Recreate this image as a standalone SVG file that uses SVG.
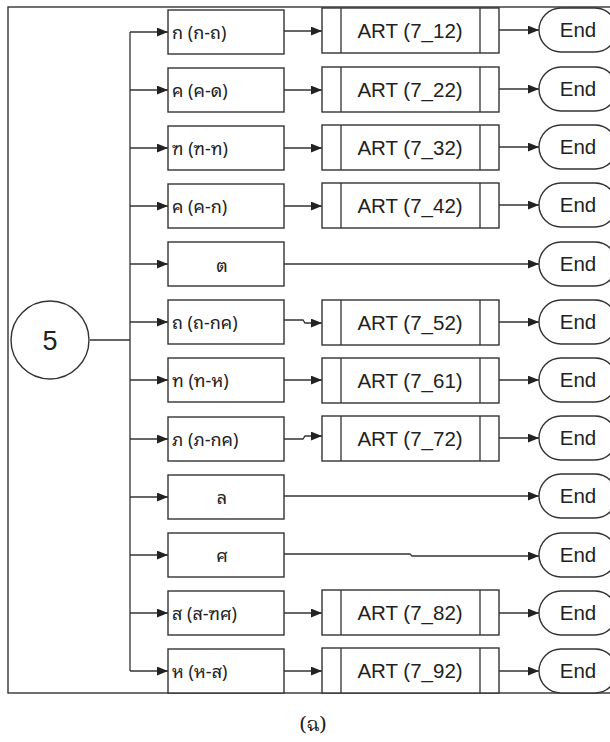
<svg xmlns="http://www.w3.org/2000/svg" width="610" height="742" viewBox="0 0 610 742">
<defs>
<marker id="ah" viewBox="0 0 10 8" refX="10" refY="4" markerWidth="11" markerHeight="9" markerUnits="userSpaceOnUse" orient="auto">
<path d="M0,0 L10,4 L0,8 Z" fill="#222"/>
</marker>
<style>
.b{fill:#fff;stroke:#333;stroke-width:1.4}
.c{fill:none;stroke:#333;stroke-width:1.3}
.a{fill:none;stroke:#333;stroke-width:1.3;marker-end:url(#ah)}
.th{font-family:"Noto Sans Thai Looped","Noto Serif Thai","Noto Sans Thai","Noto Sans",sans-serif;font-size:18px;fill:#222}
.en{font-family:"Liberation Sans",Arial,sans-serif;font-size:20.5px;fill:#222}
.cap{font-family:"Noto Serif Thai","Liberation Serif",serif;font-size:20px;fill:#222}
</style>
</defs>
<rect x="8" y="7" width="606" height="686" fill="none" stroke="#333" stroke-width="1.4"/>
<g id="connectors">
<path class="c" d="M90,340 H130 M130,32 V671"/>
<path class="a" d="M130,32 H168"/><path class="a" d="M130,90 H168"/><path class="a" d="M130,148 H168"/><path class="a" d="M130,206 H168"/><path class="a" d="M130,264 H168"/><path class="a" d="M130,322 H168"/><path class="a" d="M130,380 H168"/><path class="a" d="M130,439 H168"/><path class="a" d="M130,497 H168"/><path class="a" d="M130,555 H168"/><path class="a" d="M130,613 H168"/><path class="a" d="M130,671 H168"/>
<path class="a" d="M284,31 H322"/><path class="a" d="M284,90 H322"/><path class="a" d="M284,148 H322"/><path class="a" d="M284,206 H322"/>
<path class="a" d="M284,320 H303 L305,323 H322"/>
<path class="a" d="M284,380 H322"/>
<path class="a" d="M284,439 H303 L305,436 H322"/>
<path class="a" d="M284,613 H322"/><path class="a" d="M284,671 H322"/>
<path class="a" d="M499,30 H539"/><path class="a" d="M499,89 H539"/><path class="a" d="M499,147 H539"/><path class="a" d="M499,205 H539"/>
<path class="a" d="M499,322 H539"/><path class="a" d="M499,380 H539"/><path class="a" d="M499,438 H539"/>
<path class="a" d="M499,613 H539"/><path class="a" d="M499,671 H539"/>
<path class="a" d="M284,264 H539"/>
<path class="a" d="M284,496 H539"/>
<path class="a" d="M284,554 H410 L412,556 H539"/>
</g>
<g id="start"><circle class="b" cx="50" cy="340" r="39"/><text x="50" y="350" text-anchor="middle" font-family="Liberation Sans,Arial,sans-serif" font-size="27" fill="#222">5</text></g>
<g id="n1"><rect class="b" x="168" y="10" width="116" height="44"/><text class="th" x="172" y="39">ก (ก-ถ)</text></g>
<g id="n2"><rect class="b" x="168" y="68" width="116" height="44"/><text class="th" x="172" y="97">ค (ค-ด)</text></g>
<g id="n3"><rect class="b" x="168" y="126" width="116" height="44"/><text class="th" x="172" y="155">ฑ (ฑ-ท)</text></g>
<g id="n4"><rect class="b" x="168" y="184" width="116" height="44"/><text class="th" x="172" y="213">ค (ค-ก)</text></g>
<g id="n5"><rect class="b" x="168" y="242" width="116" height="44"/><text class="th" x="222" y="272" text-anchor="middle">ต</text></g>
<g id="n6"><rect class="b" x="168" y="300" width="116" height="44"/><text class="th" x="172" y="329">ถ (ถ-กค)</text></g>
<g id="n7"><rect class="b" x="168" y="358" width="116" height="44"/><text class="th" x="172" y="387">ท (ท-ห)</text></g>
<g id="n8"><rect class="b" x="168" y="417" width="116" height="44"/><text class="th" x="172" y="446">ภ (ภ-กค)</text></g>
<g id="n9"><rect class="b" x="168" y="475" width="116" height="44"/><text class="th" x="222" y="504" text-anchor="middle">ล</text></g>
<g id="n10"><rect class="b" x="168" y="533" width="116" height="44"/><text class="th" x="222" y="562" text-anchor="middle">ศ</text></g>
<g id="n11"><rect class="b" x="168" y="591" width="116" height="44"/><text class="th" x="172" y="620">ส (ส-ฑศ)</text></g>
<g id="n12"><rect class="b" x="168" y="649" width="116" height="44"/><text class="th" x="172" y="678">ห (ห-ส)</text></g>
<g id="art1"><rect class="b" x="322" y="8" width="177" height="45"/><path class="c" d="M341,8 V53 M480,8 V53"/><text class="en" x="410" y="38" text-anchor="middle">ART (7_12)</text></g>
<g id="art2"><rect class="b" x="322" y="67" width="177" height="45"/><path class="c" d="M341,67 V112 M480,67 V112"/><text class="en" x="410" y="97" text-anchor="middle">ART (7_22)</text></g>
<g id="art3"><rect class="b" x="322" y="125" width="177" height="45"/><path class="c" d="M341,125 V170 M480,125 V170"/><text class="en" x="410" y="155" text-anchor="middle">ART (7_32)</text></g>
<g id="art4"><rect class="b" x="322" y="183" width="177" height="45"/><path class="c" d="M341,183 V228 M480,183 V228"/><text class="en" x="410" y="213" text-anchor="middle">ART (7_42)</text></g>
<g id="art5"><rect class="b" x="322" y="300" width="177" height="45"/><path class="c" d="M341,300 V345 M480,300 V345"/><text class="en" x="410" y="330" text-anchor="middle">ART (7_52)</text></g>
<g id="art6"><rect class="b" x="322" y="358" width="177" height="45"/><path class="c" d="M341,358 V403 M480,358 V403"/><text class="en" x="410" y="388" text-anchor="middle">ART (7_61)</text></g>
<g id="art7"><rect class="b" x="322" y="416" width="177" height="45"/><path class="c" d="M341,416 V461 M480,416 V461"/><text class="en" x="410" y="446" text-anchor="middle">ART (7_72)</text></g>
<g id="art8"><rect class="b" x="322" y="590" width="177" height="45"/><path class="c" d="M341,590 V635 M480,590 V635"/><text class="en" x="410" y="620" text-anchor="middle">ART (7_82)</text></g>
<g id="art9"><rect class="b" x="322" y="648" width="177" height="45"/><path class="c" d="M341,648 V693 M480,648 V693"/><text class="en" x="410" y="678" text-anchor="middle">ART (7_92)</text></g>
<g id="end1"><rect class="b" x="539" y="8" width="78" height="44" rx="22"/><text class="en" x="578" y="37" text-anchor="middle">End</text></g>
<g id="end2"><rect class="b" x="539" y="67" width="78" height="44" rx="22"/><text class="en" x="578" y="96" text-anchor="middle">End</text></g>
<g id="end3"><rect class="b" x="539" y="125" width="78" height="44" rx="22"/><text class="en" x="578" y="154" text-anchor="middle">End</text></g>
<g id="end4"><rect class="b" x="539" y="183" width="78" height="44" rx="22"/><text class="en" x="578" y="212" text-anchor="middle">End</text></g>
<g id="end5"><rect class="b" x="539" y="242" width="78" height="44" rx="22"/><text class="en" x="578" y="271" text-anchor="middle">End</text></g>
<g id="end6"><rect class="b" x="539" y="300" width="78" height="44" rx="22"/><text class="en" x="578" y="329" text-anchor="middle">End</text></g>
<g id="end7"><rect class="b" x="539" y="358" width="78" height="44" rx="22"/><text class="en" x="578" y="387" text-anchor="middle">End</text></g>
<g id="end8"><rect class="b" x="539" y="416" width="78" height="44" rx="22"/><text class="en" x="578" y="445" text-anchor="middle">End</text></g>
<g id="end9"><rect class="b" x="539" y="474" width="78" height="44" rx="22"/><text class="en" x="578" y="503" text-anchor="middle">End</text></g>
<g id="end10"><rect class="b" x="539" y="533" width="78" height="44" rx="22"/><text class="en" x="578" y="562" text-anchor="middle">End</text></g>
<g id="end11"><rect class="b" x="539" y="591" width="78" height="44" rx="22"/><text class="en" x="578" y="620" text-anchor="middle">End</text></g>
<g id="end12"><rect class="b" x="539" y="649" width="78" height="44" rx="22"/><text class="en" x="578" y="678" text-anchor="middle">End</text></g>
<text class="cap" x="313" y="731" text-anchor="middle">(ฉ)</text>
</svg>
